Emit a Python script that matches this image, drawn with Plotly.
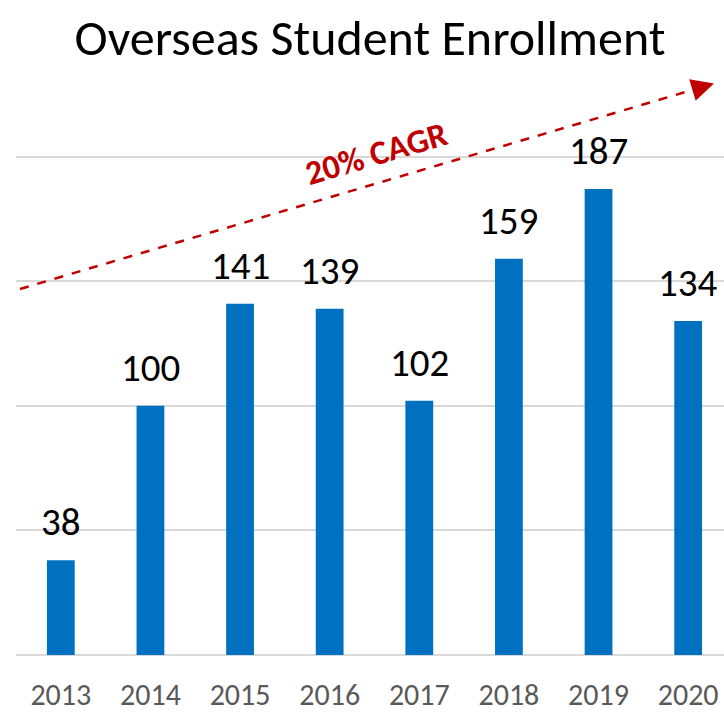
import plotly.graph_objects as go

years = ["2013", "2014", "2015", "2016", "2017", "2018", "2019", "2020"]
enrollment = [38, 100, 141, 139, 102, 159, 187, 134]
title_text = "Overseas Student Enrollment"
cagr_text = "20% CAGR"

FONT = "Carlito, Lato, 'Open Sans', sans-serif"
BLUE = "#0070C0"
RED = "#C00000"

W, H = 724, 713
M_L, M_R, M_T, M_B = 16, 0, 57, 58

fig = go.Figure()
fig.add_trace(go.Bar(
    x=list(range(len(years))),
    y=enrollment,
    marker=dict(color=BLUE, line=dict(width=0)),
    width=0.31,
    hoverinfo="skip",
))

annotations = []
for i, v in enumerate(enrollment):
    annotations.append(dict(
        x=i, y=v, xref="x", yref="y", text=str(v), showarrow=False,
        yanchor="bottom", yshift=13,
        font=dict(family=FONT, size=39, color="#000000"),
    ))

# CAGR trend arrow (decorative, in paper coordinates)
x0, y0 = (20 - M_L) / (W - M_L - M_R), 1 - (289 - M_T) / (H - M_T - M_B)
x1, y1 = (704 - M_L) / (W - M_L - M_R), 1 - (86.5 - M_T) / (H - M_T - M_B)
xt, yt = (714 - M_L) / (W - M_L - M_R), 1 - (83.5 - M_T) / (H - M_T - M_B)

shapes = [dict(
    type="line", xref="paper", yref="paper", x0=x0, y0=y0, x1=x1, y1=y1,
    line=dict(color=RED, width=2.5, dash="dash"), layer="above",
)]
annotations.append(dict(
    x=xt, y=yt, xref="paper", yref="paper", ax=-12, ay=3.6,
    axref="pixel", ayref="pixel",
    text="", showarrow=True, arrowhead=2, arrowsize=1.8, arrowwidth=2.5,
    arrowcolor=RED, standoff=0,
))
annotations.append(dict(
    x=(376 - M_L) / (W - M_L - M_R), y=1 - (153 - M_T) / (H - M_T - M_B),
    xref="paper", yref="paper", text="<b>%s</b>" % cagr_text, showarrow=False,
    textangle=-16.5, font=dict(family=FONT, size=34, color=RED),
    xanchor="center", yanchor="middle",
))

fig.update_layout(
    width=W, height=H,
    margin=dict(l=M_L, r=M_R, t=M_T, b=M_B, pad=0),
    paper_bgcolor="white", plot_bgcolor="white",
    showlegend=False,
    bargap=0.69,
    title=dict(
        text=title_text, x=370 / W, xref="container", xanchor="center",
        y=1 - 37 / H, yref="container", yanchor="middle",
        font=dict(family=FONT, size=50, color="#000000"),
    ),
    xaxis=dict(
        range=[-0.5, 7.4], tickmode="array",
        tickvals=list(range(len(years))), ticktext=years,
        showgrid=False, zeroline=False, showline=False,
        ticks="outside", ticklen=13, tickcolor="rgba(0,0,0,0)",
        tickfont=dict(family=FONT, size=30, color="#595959"),
        automargin=False, fixedrange=True,
    ),
    yaxis=dict(
        range=[0, 240], dtick=50, showticklabels=False,
        showgrid=True, gridcolor="#D9D9D9", gridwidth=1.5,
        zeroline=True, zerolinecolor="#D9D9D9", zerolinewidth=1.5,
        showline=False, automargin=False, fixedrange=True,
    ),
    annotations=annotations,
    shapes=shapes,
)

fig.write_html(
    "out.html",
    config={"displayModeBar": False},
    post_script="document.body.style.margin='0';document.body.style.overflow='hidden';",
)
